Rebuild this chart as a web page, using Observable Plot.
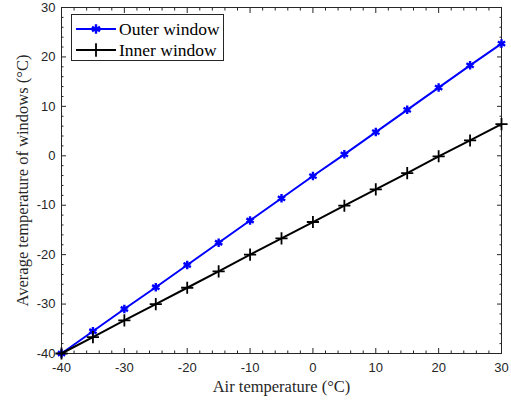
<!DOCTYPE html>
<html>
<head>
<meta charset="utf-8">
<script src="https://cdn.jsdelivr.net/npm/d3@7"></script>
<script src="https://cdn.jsdelivr.net/npm/@observablehq/plot@0.6"></script>
<style>
  body { margin: 0; background: #fff; }
  #wrap { position: relative; width: 511px; height: 400px; }
  #legend {
    position: absolute; left: 71px; top: 14px; width: 153px; height: 47px;
    border: 1px solid #262626; background: #fff; box-sizing: border-box;
    font-family: "Liberation Serif", "DejaVu Serif", serif; font-size: 17.5px; color: #000;
  }
  #legend .row { position: absolute; left: 0; height: 20px; display: flex; align-items: center; }
  #legend svg { display: block; }
  #legend span { margin-left: 3px; line-height: 20px; }
</style>
</head>
<body>
<div id="wrap"></div>
<script>
// Air temperature (°C) and the resulting average window temperatures (°C)
const airTemp = [-40, -35, -30, -25, -20, -15, -10, -5, 0, 5, 10, 15, 20, 25, 30];
const outerWindow = [-40, -35.5, -31.0, -26.6, -22.1, -17.6, -13.1, -8.6, -4.1, 0.3, 4.8, 9.3, 13.8, 18.3, 22.7];
const innerWindow = [-40, -36.7, -33.3, -30.0, -26.7, -23.4, -20.0, -16.7, -13.4, -10.1, -6.8, -3.5, -0.1, 3.1, 6.4];

const xTicks = [-40, -30, -20, -10, 0, 10, 20, 30];
const yTicks = [-40, -30, -20, -10, 0, 10, 20, 30];
const xMinor = d3.range(-40, 31, 2).filter(v => !xTicks.includes(v));
const yMinor = d3.range(-40, 31, 2).filter(v => !yTicks.includes(v));

const seriesNames = ["Outer window", "Inner window"];
const seriesColors = ["#0000ff", "#000000"];

const rows = airTemp.map((t, i) => ({air: t, outer: outerWindow[i], inner: innerWindow[i]}));

const axisColor = "#262626";
const sans = "Liberation Sans, Arial, sans-serif";
const serif = "Liberation Serif, DejaVu Serif, serif";
const blank = () => "";
const plain = d => `${d}`; // hyphen-minus, as in the printed labels

const chart = Plot.plot({
  width: 511,
  height: 400,
  marginLeft: 61,
  marginRight: 10,
  marginTop: 7,
  marginBottom: 47,
  style: {background: "#fff", color: axisColor, fontFamily: sans, fontSize: "13px"},
  x: {domain: [-40, 30]},
  y: {domain: [-40, 30]},
  marks: [
    // tick labels
    Plot.axisX({ticks: xTicks, tickSize: 0, tickPadding: 9, tickFormat: plain, label: null, fontSize: 13}),
    Plot.axisY({ticks: yTicks, tickSize: 0, tickPadding: 6, tickFormat: plain, label: null, fontSize: 13}),
    // inward major and minor ticks on all four sides
    Plot.axisX({ticks: xTicks, tickSize: -5, tickFormat: blank, label: null, anchor: "bottom"}),
    Plot.axisX({ticks: xTicks, tickSize: -5, tickFormat: blank, label: null, anchor: "top"}),
    Plot.axisX({ticks: xMinor, tickSize: -2.5, tickFormat: blank, label: null, anchor: "bottom"}),
    Plot.axisX({ticks: xMinor, tickSize: -2.5, tickFormat: blank, label: null, anchor: "top"}),
    Plot.axisY({ticks: yTicks, tickSize: -5, tickFormat: blank, label: null, anchor: "left"}),
    Plot.axisY({ticks: yTicks, tickSize: -5, tickFormat: blank, label: null, anchor: "right"}),
    Plot.axisY({ticks: yMinor, tickSize: -2.5, tickFormat: blank, label: null, anchor: "left"}),
    Plot.axisY({ticks: yMinor, tickSize: -2.5, tickFormat: blank, label: null, anchor: "right"}),
    Plot.frame({stroke: axisColor}),
    // axis titles
    Plot.text(["Air temperature (°C)"], {frameAnchor: "bottom", dy: 38, textAnchor: "middle", fontFamily: serif, fontSize: 16.5, fill: axisColor}),
    Plot.text(["Average temperature of windows (°C)"], {frameAnchor: "left", rotate: -90, dx: -39, textAnchor: "middle", fontFamily: serif, fontSize: 16.5, fill: axisColor}),
    // series
    Plot.line(rows, {x: "air", y: "outer", stroke: seriesColors[0], strokeWidth: 2}),
    Plot.dot(rows, {x: "air", y: "outer", symbol: "asterisk", stroke: seriesColors[0], strokeWidth: 2.4, r: 4}),
    Plot.line(rows, {x: "air", y: "inner", stroke: seriesColors[1], strokeWidth: 2}),
    Plot.dot(rows, {x: "air", y: "inner", symbol: "plus", stroke: seriesColors[1], strokeWidth: 1.8, r: 4})
  ]
});

const wrap = document.getElementById("wrap");
wrap.appendChild(chart);

// legend box inside the plot area
const legend = document.createElement("div");
legend.id = "legend";
const symbols = [d3.symbolAsterisk, d3.symbolPlus];
seriesNames.forEach((name, i) => {
  const row = document.createElement("div");
  row.className = "row";
  row.style.top = (i === 0 ? 4 : 25) + "px";
  const svg = d3.create("svg").attr("width", 44).attr("height", 20);
  svg.append("line").attr("x1", 4).attr("x2", 44).attr("y1", 10).attr("y2", 10)
    .attr("stroke", seriesColors[i]).attr("stroke-width", 2);
  svg.append("path").attr("transform", "translate(24,10)")
    .attr("d", d3.symbol(symbols[i], 60)())
    .attr("fill", "none").attr("stroke", seriesColors[i]).attr("stroke-width", i === 0 ? 2.4 : 1.8);
  row.appendChild(svg.node());
  const label = document.createElement("span");
  label.textContent = name;
  row.appendChild(label);
  legend.appendChild(row);
});
wrap.appendChild(legend);
</script>
</body>
</html>
